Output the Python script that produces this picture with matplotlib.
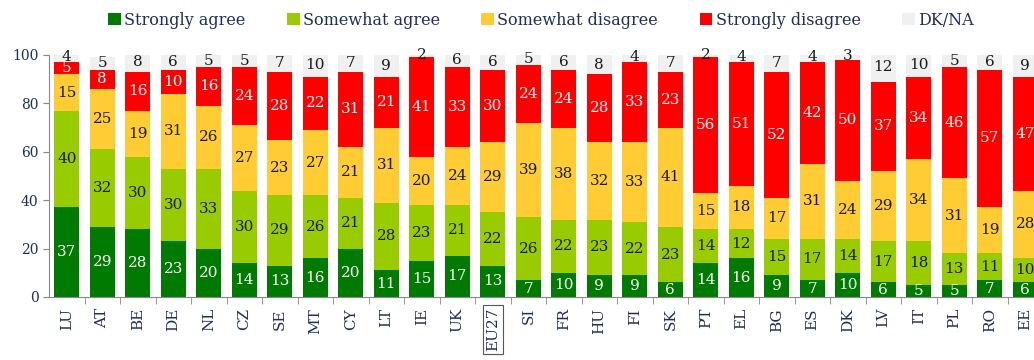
import numpy as np
import matplotlib
matplotlib.use('Agg')
import matplotlib.pyplot as plt
from matplotlib.patches import Patch

countries = ['LU', 'AT', 'BE', 'DE', 'NL', 'CZ', 'SE', 'MT', 'CY', 'LT', 'IE', 'UK', 'EU27',
             'SI', 'FR', 'HU', 'FI', 'SK', 'PT', 'EL', 'BG', 'ES', 'DK', 'LV', 'IT', 'PL', 'RO', 'EE']

strongly_agree = [37, 29, 28, 23, 20, 14, 13, 16, 20, 11, 15, 17, 13,
                  7, 10, 9, 9, 6, 14, 16, 9, 7, 10, 6, 5, 5, 7, 6]
somewhat_agree = [40, 32, 30, 30, 33, 30, 29, 26, 21, 28, 23, 21, 22,
                  26, 22, 23, 22, 23, 14, 12, 15, 17, 14, 17, 18, 13, 11, 10]
somewhat_disagree = [15, 25, 19, 31, 26, 27, 23, 27, 21, 31, 20, 24, 29,
                     39, 38, 32, 33, 41, 15, 18, 17, 31, 24, 29, 34, 31, 19, 28]
strongly_disagree = [5, 8, 16, 10, 16, 24, 28, 22, 31, 21, 41, 33, 30,
                     24, 24, 28, 33, 23, 56, 51, 52, 42, 50, 37, 34, 46, 57, 47]
dk_na = [4, 5, 8, 6, 5, 5, 7, 10, 7, 9, 2, 6, 6,
         5, 6, 8, 4, 7, 2, 4, 7, 4, 3, 12, 10, 5, 6, 9]

series = [
    ('Strongly agree', strongly_agree, '#007A00', 'white'),
    ('Somewhat agree', somewhat_agree, '#99CC00', '#1a1a1a'),
    ('Somewhat disagree', somewhat_disagree, '#FFCC33', '#1a1a1a'),
    ('Strongly disagree', strongly_disagree, '#FF0000', 'white'),
    ('DK/NA', dk_na, '#F0F0F0', '#1a1a1a'),
]

plt.rcParams['font.family'] = ['DejaVu Serif']
navy = '#1F2F55'

fig = plt.figure(figsize=(10.34, 3.6), dpi=100)
# the last column runs past the right edge of the figure
ax = fig.add_axes([49 / 1034, 1 - 297 / 360, 28 * 35.5 / 1034, (297 - 55) / 360])

x = np.arange(len(countries))
bottom = np.zeros(len(countries))
for name, vals, color, tcolor in series:
    vals = np.array(vals, dtype=float)
    ax.bar(x, vals, bottom=bottom, width=0.71, color=color, label=name, zorder=2)
    for xi, b, v in zip(x, bottom, vals):
        ax.text(xi, b + v / 2, f'{int(v)}', ha='center', va='center',
                fontsize=11, color=tcolor, zorder=3, clip_on=False)
    bottom += vals

ax.set_xlim(-0.5, len(countries) - 0.5)
ax.set_ylim(0, 100)
ax.set_yticks(range(0, 101, 20))
ax.tick_params(axis='y', labelsize=10, labelcolor=navy, color='#888888', length=4)

ax.set_xticks(x)
ax.set_xticklabels(countries, rotation=90, fontsize=11, color=navy)
ax.tick_params(axis='x', length=0, pad=8)
ax.set_xticks(np.arange(0.5, len(countries) - 0.5), minor=True)
ax.tick_params(axis='x', which='minor', length=5, color='#888888')

for lbl in ax.get_xticklabels():
    if lbl.get_text() == 'EU27':
        lbl.set_bbox(dict(facecolor='white', edgecolor='#555555', linewidth=0.8, pad=2))

for side in ['top', 'right']:
    ax.spines[side].set_visible(False)
for side in ['left', 'bottom']:
    ax.spines[side].set_color('#888888')

handles = [Patch(facecolor=c, label=n) for n, _, c, _ in series]
fig.legend(handles=handles, loc='center', bbox_to_anchor=(0.523, 0.944), ncol=5,
           frameon=False, fontsize=11.5, handlelength=0.8, handleheight=0.8,
           handletextpad=0.2, columnspacing=2.6, labelcolor=navy)

fig.savefig('out.png', dpi=100)
